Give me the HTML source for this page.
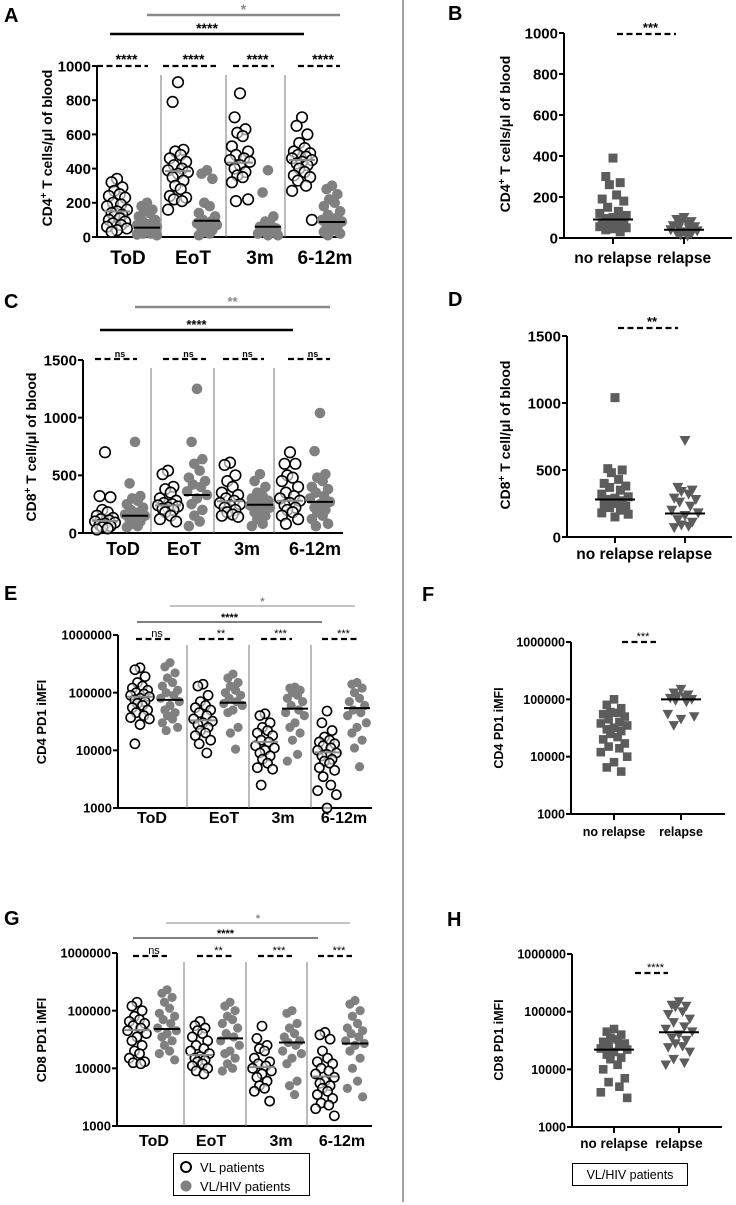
<!DOCTYPE html>
<html><head><meta charset="utf-8"><style>
html,body{margin:0;padding:0;background:#fff;}
svg{display:block;font-family:"Liberation Sans",Arial,sans-serif;}
</style></head><body>
<svg id="fig" width="736" height="1205" viewBox="0 0 736 1205" xmlns="http://www.w3.org/2000/svg"></svg>
<script>
// ---------- DATA ----------
const timepoints = ["ToD","EoT","3m","6-12m"];
const relapseCats = ["no relapse","relapse"];
// Panel A (CD4 T cells/ul)
const aOpen = [
 [340,320,290,270,250,240,230,200,190,180,160,150,140,130,120,110,100,90,80,70,60,50,40,30],
 [905,790,510,500,480,460,440,420,400,390,380,370,350,330,300,280,240,230,220,210,160],
 [840,700,630,610,590,530,500,480,460,450,440,420,400,380,360,350,320,220,210],
 [700,650,600,550,520,500,490,480,470,460,450,440,430,420,400,380,360,350,330,300,270,100]];
const aGray = [
 [200,180,160,150,140,120,100,90,80,70,60,55,50,45,40,35,30,25,20,20,15,10],
 [390,370,340,200,180,140,120,100,90,80,70,60,50,40,30,20,10],
 [390,260,120,90,70,60,50,40,30,20,10,10],
 [300,280,250,220,200,180,150,130,110,100,90,80,70,60,50,40,30,20,10]];
const aOpenMed = [150,385,435,450];
const aGrayMed = [55,95,60,88];
const aTicks = [0,200,400,600,800,1000];
const aSig = ["****","****","****","****"];
// Panel C (CD8)
const cOpen = [
 [700,320,310,200,180,150,130,120,110,100,90,80,70,60,50,40,30],
 [540,510,400,380,350,300,280,260,250,240,230,220,210,200,180,150,120,100],
 [610,590,500,450,400,350,330,300,280,260,250,240,220,200,180,160,150,140],
 [700,600,600,500,480,450,400,350,320,300,280,260,240,220,200,180,150,120,80]];
const cGray = [
 [790,430,320,300,280,250,220,200,180,160,150,140,120,100,80,60,50],
 [1250,790,640,600,540,480,450,420,400,360,330,300,250,200,150,100,60],
 [510,450,400,350,320,300,280,260,250,240,220,200,180,150,120,80,60],
 [1040,710,510,480,450,400,380,350,320,300,270,250,220,200,180,150,120,80,60]];
const cOpenMed = [105,240,275,280];
const cGrayMed = [150,330,245,270];
const cTicks = [0,500,1000,1500];
const cSig = ["ns","ns","ns","ns"];
// Panel E (CD4 PD1 iMFI)
const eOpen = [
 [270000,250000,190000,150000,130000,120000,110000,100000,95000,90000,85000,80000,75000,70000,65000,60000,55000,50000,45000,40000,37000,35000,28000,13000],
 [140000,130000,90000,70000,60000,55000,50000,45000,40000,35000,32000,30000,28000,25000,22000,20000,18000,15000,13000,9000],
 [43000,40000,30000,25000,22000,20000,18000,15000,14000,12000,11000,10000,9000,8000,7000,6000,5000,4700,2500],
 [48000,30000,22000,17000,15000,14000,13000,12000,11000,10000,9000,8500,8000,7000,6500,6000,5000,4500,3500,2500,2000,1700,1000]];
const eGray = [
 [330000,280000,220000,180000,150000,130000,110000,100000,90000,80000,70000,60000,50000,45000,40000,35000,30000,25000,22000],
 [210000,180000,150000,130000,110000,100000,90000,80000,70000,65000,60000,50000,45000,25000,20000,10500],
 [125000,120000,110000,100000,90000,80000,70000,60000,50000,45000,40000,30000,25000,20000,15000,8500,6500],
 [150000,140000,120000,100000,80000,70000,60000,50000,45000,40000,30000,25000,20000,15000,11000,5200]];
const eOpenMed = [85000,33000,14000,9200];
const eGrayMed = [75000,67000,53000,54000];
const logTicks = [1000,10000,100000,1000000];
const eSig = ["ns","**","***","***"];
// Panel G (CD8 PD1 iMFI)
const gOpen = [
 [140000,120000,100000,80000,70000,65000,60000,55000,50000,45000,40000,35000,30000,25000,20000,18000,15000,13000,12500,12000],
 [65000,55000,50000,45000,40000,35000,30000,25000,22000,20000,18000,16000,15000,14000,13000,12000,11000,10000,9000,8000],
 [54000,33000,25000,22000,20000,15000,13000,12000,11000,10000,9000,8000,7000,6000,5000,4500,4000,2700],
 [42000,38000,32000,20000,15000,13000,12000,10000,9000,8000,7000,6000,5500,5000,4500,4000,3500,3000,2500,2300,2000,1500]];
const gGray = [
 [230000,200000,170000,140000,110000,90000,80000,70000,60000,50000,45000,40000,35000,30000,25000,20000,18000,14000],
 [140000,120000,100000,80000,70000,60000,50000,40000,35000,30000,25000,20000,18000,15000,12000,10000,9000],
 [100000,90000,60000,50000,40000,35000,30000,28000,25000,20000,18000,15000,12000,6000,5000,3500],
 [150000,130000,100000,80000,60000,50000,45000,40000,35000,30000,27000,25000,20000,15000,10000,6000,4500,3200]];
const gOpenMed = [46000,17000,10500,7200];
const gGrayMed = [48000,33000,28000,27000];
const gSig = ["ns","**","***","***"];
// Right panels
const bNo = [390,300,270,260,210,190,180,150,130,120,110,100,95,90,85,80,75,70,65,60,55,50,45,40,30];
const bRel = [100,90,80,75,70,60,55,50,45,40,35,30,25,20,15,10];
const bMed = [90,40];
const dNo = [1040,510,500,480,430,400,380,370,350,320,300,290,280,270,260,250,240,230,220,200,180,170,150];
const dRel = [720,370,350,340,320,290,280,260,230,200,180,160,130,110,90,80,70];
const dMed = [280,175];
const fNo = [100000,80000,70000,60000,58000,55000,50000,45000,40000,38000,35000,32000,30000,28000,25000,22000,20000,17000,15000,14000,12000,10000,8000,6500,5500];
const fRel = [150000,130000,120000,115000,110000,105000,100000,95000,90000,55000,50000,45000,35000];
const fMed = [null,100000];
const hNo = [50000,45000,40000,35000,33000,30000,28000,27000,25000,23000,22000,20000,18000,16000,15000,12000,10000,7000,6000,5000,4000,3200];
const hRel = [150000,130000,125000,120000,100000,90000,75000,65000,55000,50000,45000,40000,35000,32000,28000,25000,24000,20000,15000,13000,12000];
const hMed = [22000,44000];

// ---------- DRAWING ----------
const NS="http://www.w3.org/2000/svg";
const svg=document.getElementById('fig');
function el(tag,attrs,parent,text){const e=document.createElementNS(NS,tag);for(const k in attrs)e.setAttribute(k,attrs[k]);if(text!==undefined)e.textContent=text;(parent||svg).appendChild(e);return e;}
function linScale(max,yTop,y0){return v=>y0-(v/max)*(y0-yTop);}
function logScale(yTop,yBot){return v=>yTop+(6-Math.log10(v))/3*(yBot-yTop);}
const JIT=[0,-6,6,-3,3,-9,9,-4.5,4.5,-11,11];
function scatter(g,vals,cx,ys,kind,r,spread){
  vals.forEach((v,i)=>{
    const x=cx+JIT[i%JIT.length]*spread, y=ys(v);
    let m;
    if(kind==='open'){m=el('circle',{cx:x,cy:y,r:r,fill:'#fff','fill-opacity':0.6,stroke:'#000','stroke-width':1.6},g);}
    else if(kind==='gray'){m=el('circle',{cx:x,cy:y,r:r,fill:'#808080'},g);}
    else if(kind==='sq'){m=el('rect',{x:x-r,y:y-r,width:2*r,height:2*r,fill:'#5c5c5c'},g);}
    else {m=el('path',{d:`M${x-r-1},${y-r} L${x+r+1},${y-r} L${x},${y+r+1} Z`,fill:'#5c5c5c'},g);}
    
    
  });
}
function medLine(g,cx,y,w,color){const l=el('line',{x1:cx-w,x2:cx+w,y1:y,y2:y,stroke:color,'stroke-width':2},g);
  }
function dashed(g,x1,x2,y,label,fs,bold){
  const l=el('line',{x1:x1,x2:x2,y1:y,y2:y,stroke:'#000','stroke-width':2.2,'stroke-dasharray':'6,3.5'},g);
  
  const t=el('text',{x:(x1+x2)/2+4,y:y-2,'font-size':fs,'font-weight':bold?'bold':'normal','text-anchor':'middle'},g,label);
  
}
function sigBar(g,x1,x2,y,color,label,fs,w){
  const l=el('line',{x1:x1,x2:x2,y1:y,y2:y,stroke:color,'stroke-width':w},g);
  
  const t=el('text',{x:(x1+x2)/2,y:y-1,'font-size':fs,'font-weight':'bold','text-anchor':'middle',fill:color},g,label);
  
}
function axes(g,c,ys,ticks){
  const ya=el('line',{x1:c.axX,x2:c.axX,y1:ys(ticks[ticks.length-1]),y2:c.y0,stroke:'#000','stroke-width':2},g);
  
  const xa=el('line',{x1:c.axX-1,x2:c.axEnd,y1:c.y0,y2:c.y0,stroke:'#000','stroke-width':2},g);
  
  ticks.forEach(t=>{const y=ys(t);
    el('line',{x1:c.axX-5,x2:c.axX,y1:y,y2:y,stroke:'#000','stroke-width':2},g);
    const tx=el('text',{x:c.axX-6,y:y+c.tfs*0.36,'font-size':c.tfs,'font-weight':'bold','text-anchor':'end'},g,String(t));
    
  });
  const tt=el('text',{x:0,y:0,'font-size':c.titleFs,'font-weight':'bold','text-anchor':'middle',transform:`translate(${c.titleX},${c.titleY}) rotate(-90)`},g);
  
  c.title.forEach(p=>{const s=el('tspan',{},tt,p[0]);if(p[1]){s.setAttribute('baseline-shift','super');s.setAttribute('font-size',c.titleFs*0.7);}});
  const L=el('text',{x:c.letter[0],y:c.letter[1],'font-size':20,'font-weight':'bold'},g,c.letterT);
  
}
function leftPanel(name,c,open,gray,oMed,gMed,sig,ys,ticks){
  const g=el('g',{});
  axes(g,c,ys,ticks);
  c.seps.forEach(x=>el('line',{x1:x,x2:x,y1:c.sepTop,y2:c.y0,stroke:'#777','stroke-width':1},g));
  timepoints.forEach((t,i)=>{
    scatter(g,open[i],c.openX[i],ys,'open',c.r,c.sp);
    scatter(g,gray[i],c.grayX[i],ys,'gray',c.r,c.sp);
    medLine(g,c.openX[i],ys(oMed[i]),13,'#8a8a8a');
    medLine(g,c.grayX[i],ys(gMed[i]),13,'#000');
    const tx=el('text',{x:c.catX[i],y:c.catY,'font-size':c.catFs,'font-weight':'bold','text-anchor':'middle'},g,t);
    
    dashed(g,c.dash[i][0],c.dash[i][1],c.dashY,sig[i],c.sigFs,c.sigBold);
  });
  sigBar(g,c.gBar[0],c.gBar[1],c.gBar[2],'#8a8a8a',c.gBar[3],c.barFs,c.barW);
  sigBar(g,c.kBar[0],c.kBar[1],c.kBar[2],'#000',c.kBar[3],c.barFs,c.barW);
}
function rightPanel(name,c,no,rel,med,ys,ticks){
  const g=el('g',{});
  axes(g,c,ys,ticks);
  relapseCats.forEach((t,i)=>{
    el('line',{x1:c.catX[i],x2:c.catX[i],y1:c.y0,y2:c.y0+6,stroke:'#000','stroke-width':2},g);
    const tx=el('text',{x:c.catX[i],y:c.catY,'font-size':c.catFs,'font-weight':'bold','text-anchor':'middle'},g,t);
    
  });
  scatter(g,no,c.catX[0],ys,'sq',c.r,c.sp);
  scatter(g,rel,c.catX[1],ys,'tri',c.r,c.sp);
  med.forEach((m,i)=>{if(m!==null)medLine(g,c.catX[i],ys(m),20,'#000');});
  dashed(g,c.dash[0],c.dash[1],c.dashY,c.sig,c.sigFs,c.sigBold);
}

// divider
const dv=el('line',{x1:403,x2:403,y1:0,y2:1202,stroke:'#666','stroke-width':1.2});


// A
const cA={axX:97,axEnd:343,y0:237,tfs:15,titleFs:14,titleX:52,titleY:148,title:[["CD4"],["+",1],[" T cells/μl of blood"]],letter:[4,22],letterT:"A",
 seps:[161,226,285],sepTop:75,openX:[117,178,240,302],grayX:[147,207,268,332],catX:[128,193,260,325],catY:264,catFs:19,
 dash:[[97,148],[163,216],[233,274],[298,340]],dashY:66,sigFs:14,sigBold:true,gBar:[147,340,15,"*"],kBar:[110,304,34,"****"],barFs:14,barW:2.4,r:5.3,sp:0.9};
leftPanel('panel-a-cd4-counts',cA,aOpen,aGray,aOpenMed,aGrayMed,aSig,linScale(1000,66,237),aTicks);
// C
const cC={axX:83,axEnd:343,y0:533,tfs:15,titleFs:14,titleX:36,titleY:447,title:[["CD8"],["+",1],[" T cell/μl of blood"]],letter:[4,308],letterT:"C",
 seps:[151,214,274],sepTop:368,openX:[105,168,230,290],grayX:[135,197,260,320],catX:[123,184,247,315],catY:555,catFs:18,
 dash:[[95,137],[163,206],[223,264],[288,330]],dashY:359,sigFs:9,sigBold:true,gBar:[135,330,307,"**"],kBar:[100,293,330,"****"],barFs:13,barW:2.4,r:5.3,sp:0.9};
leftPanel('panel-c-cd8-counts',cC,cOpen,cGray,cOpenMed,cGrayMed,cSig,linScale(1500,360,533),cTicks);
// E
const cE={axX:118,axEnd:372,y0:808,tfs:13,titleFs:13,titleX:46,titleY:722,title:[["CD4 PD1 iMFI"]],letter:[4,600],letterT:"E",
 seps:[187,249,311],sepTop:645,openX:[140,203,265,327],grayX:[170,233,295,357],catX:[152,224,283,344],catY:823,catFs:16,
 dash:[[136,170],[199,235],[261,292],[322,357]],dashY:639,sigFs:11,sigBold:false,gBar:[170,355,606,"*"],kBar:[137,322,622,"****"],barFs:11,barW:1,r:4.6,sp:0.85};
leftPanel('panel-e-cd4-pd1',cE,eOpen,eGray,eOpenMed,eGrayMed,eSig,logScale(635,808),logTicks);
// G
const cG={axX:117,axEnd:372,y0:1126,tfs:13,titleFs:13,titleX:46,titleY:1040,title:[["CD8 PD1 iMFI"]],letter:[4,925],letterT:"G",
 seps:[184,246,307],sepTop:962,openX:[137,200,262,325],grayX:[167,230,292,355],catX:[154,211,281,342],catY:1146,catFs:16,
 dash:[[133,167],[197,232],[258,292],[318,352]],dashY:956,sigFs:11,sigBold:false,gBar:[166,350,923,"*"],kBar:[133,318,938,"****"],barFs:11,barW:1,r:4.6,sp:0.85};
leftPanel('panel-g-cd8-pd1',cG,gOpen,gGray,gOpenMed,gGrayMed,gSig,logScale(953,1126),logTicks);
// legend G
const lg=el('g',{});
el('rect',{x:173.5,y:1153.5,width:136,height:42,fill:'#fff',stroke:'#000','stroke-width':1},lg);
el('circle',{cx:186,cy:1167,r:5,fill:'#fff',stroke:'#000','stroke-width':2},lg);
el('circle',{cx:186,cy:1186,r:5.5,fill:'#808080'},lg);
const l1=el('text',{x:200,y:1172,'font-size':13},lg,"VL patients");
const l2=el('text',{x:200,y:1191,'font-size':13},lg,"VL/HIV patients");

// B
const cB={axX:564,axEnd:732,y0:238,tfs:15,titleFs:14,titleX:510,titleY:134,title:[["CD4"],["+",1],[" T cells/μl of blood"]],letter:[448,20],letterT:"B",
 catX:[613,684],catY:263,catFs:15.5,dash:[617,676],dashY:34,sig:"***",sigFs:13,sigBold:true,r:4.5,sp:1.2};
rightPanel('panel-b-cd4-relapse',cB,bNo,bRel,bMed,linScale(1000,33,238),aTicks);
// D
const cD={axX:567,axEnd:732,y0:537,tfs:15,titleFs:14,titleX:510,titleY:435,title:[["CD8"],["+",1],[" T cell/μl of blood"]],letter:[448,306],letterT:"D",
 catX:[615,685],catY:559,catFs:15.5,dash:[618,678],dashY:328,sig:"**",sigFs:13,sigBold:true,r:4.5,sp:1.2};
rightPanel('panel-d-cd8-relapse',cD,dNo,dRel,dMed,linScale(1500,336,537),cTicks);
// F
const cF={axX:571,axEnd:725,y0:814,tfs:12.5,titleFs:12.5,titleX:503,titleY:728,title:[["CD4 PD1 iMFI"]],letter:[422,601],letterT:"F",
 catX:[614,681],catY:836,catFs:12.5,dash:[622,656],dashY:642,sig:"***",sigFs:11,sigBold:false,r:4.3,sp:1.2};
rightPanel('panel-f-cd4-pd1-relapse',cF,fNo,fRel,fMed,logScale(642,814),logTicks);
// H
const cH={axX:572,axEnd:722,y0:1127,tfs:12.5,titleFs:12.5,titleX:503,titleY:1040,title:[["CD8 PD1 iMFI"]],letter:[447,926],letterT:"H",
 catX:[614,679],catY:1148,catFs:13.5,dash:[635,668],dashY:973,sig:"****",sigFs:11,sigBold:false,r:4.3,sp:1.2};
rightPanel('panel-h-cd8-pd1-relapse',cH,hNo,hRel,hMed,logScale(954,1127),logTicks);
const lh=el('g',{});
el('rect',{x:572.5,y:1163.5,width:115,height:22,fill:'#fff',stroke:'#000','stroke-width':1},lh);
const lt=el('text',{x:630,y:1179,'font-size':12.5,'text-anchor':'middle'},lh,"VL/HIV patients");

</script>
</body></html>
